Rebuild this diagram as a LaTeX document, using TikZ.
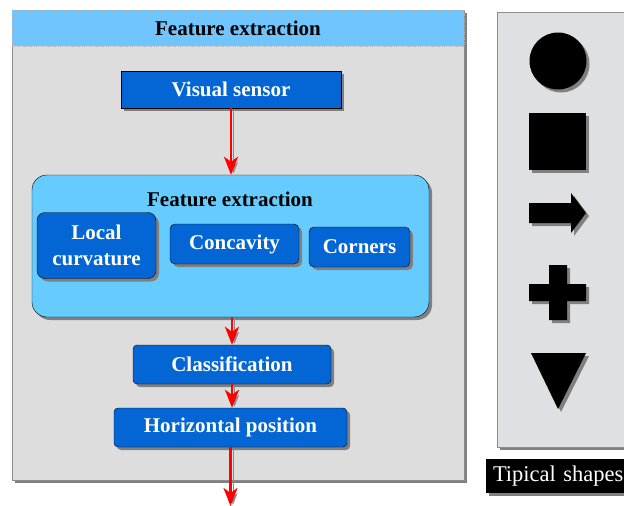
\documentclass[tikz,border=0pt]{standalone}
\usepackage{fontspec}
\setmainfont{Liberation Serif}
\usetikzlibrary{shadows,arrows.meta}

\definecolor{panelgray}{RGB}{221,221,221}
\definecolor{headblue}{RGB}{112,197,255}
\definecolor{groupblue}{RGB}{102,204,255}
\definecolor{stepblue}{RGB}{4,102,212}
\definecolor{shapegray}{RGB}{222,224,227}

\tikzset{
  shade/.style={drop shadow={shadow xshift=3pt,shadow yshift=-3pt,fill=black!50,opacity=1}},
  panelbox/.style={draw=black!45,fill=#1,inner sep=0pt,shade},
  blockbox/.style={draw=black,fill=stepblue,text=white,inner sep=0pt,
    font=\bfseries\fontsize{21}{26}\selectfont,align=center,shade},
  flow/.style={draw=red,line width=2.8pt,-{Stealth[length=18pt,width=14pt,inset=5pt]},
    preaction={draw=black!45,transform canvas={shift={(2.5pt,-2pt)}}}},
  blot/.style={fill=black,shade},
}

\begin{document}
\begin{tikzpicture}[x=1pt,y=-1pt]
\useasboundingbox (0,0) rectangle (624,506);

% left panel
\node[panelbox=panelgray,minimum width=452pt,minimum height=470pt] (panel) at (238,245) {};
\node[draw=black!30,dotted,fill=headblue,inner sep=0pt,minimum width=452pt,minimum height=36pt,
  font=\bfseries\fontsize{21}{26}\selectfont] (head) at (238,28) {Feature extraction};

\node[blockbox,minimum width=220pt,minimum height=37pt] (vis) at (231,89.5) {Visual sensor};

% feature group
\node[draw=black,fill=groupblue,rounded corners=15pt,inner sep=0pt,
  minimum width=397pt,minimum height=142pt,shade] (fe) at (230.5,246) {};
\node[font=\bfseries\fontsize{21}{26}\selectfont,inner sep=0pt] (fetitle) at (230,199) {Feature extraction};
\node[blockbox,rounded corners=8pt,minimum width=119pt,minimum height=66pt] (curv) at (96.5,245.5) {Local\\curvature};
\node[blockbox,rounded corners=5pt,minimum width=129pt,minimum height=40pt] (conc) at (234.5,244) {Concavity};
\node[blockbox,rounded corners=5pt,minimum width=101pt,minimum height=40pt] (corn) at (359.5,247) {Corners};

\node[blockbox,rounded corners=4pt,minimum width=198pt,minimum height=39pt] (cls) at (232,364.5) {Classification};
\node[blockbox,rounded corners=4pt,minimum width=233pt,minimum height=39pt] (hpos) at (230.5,427.5) {Horizontal position};
\coordinate (out) at (230.5,506);

\draw[flow] (vis.south) -- (vis.south |- fe.north);
\draw[flow] (cls.north |- fe.south) -- (cls.north);
\draw[flow] (cls.south) -- (cls.south |- hpos.north);
\draw[flow] (hpos.south) -- (out);

% right panel
\node[panelbox=shapegray,minimum width=153pt,minimum height=435pt] (shapes) at (573.5,229.5) {};
\fill[blot] (558,61) circle (28.5pt);
\fill[blot] (529,113) rectangle (586,170);
\fill[blot] (529,203) -- (571,203) -- (571,193) -- (586,213) -- (571,233) -- (571,223) -- (529,223) -- cycle;
\fill[blot] (549,265) -- (567,265) -- (567,284) -- (586,284) -- (586,301) -- (567,301) -- (567,320)
  -- (549,320) -- (549,301) -- (529,301) -- (529,284) -- (549,284) -- cycle;
\fill[blot] (531,353) -- (586,353) -- (558,409) -- cycle;

\node[fill=black,text=white,inner sep=0pt,minimum height=34pt,minimum width=160pt,
  text width=146pt,font=\fontsize{22.5}{26}\selectfont,shade] (tip) at (566,476) {Tipical shapes};
\end{tikzpicture}
\end{document}
